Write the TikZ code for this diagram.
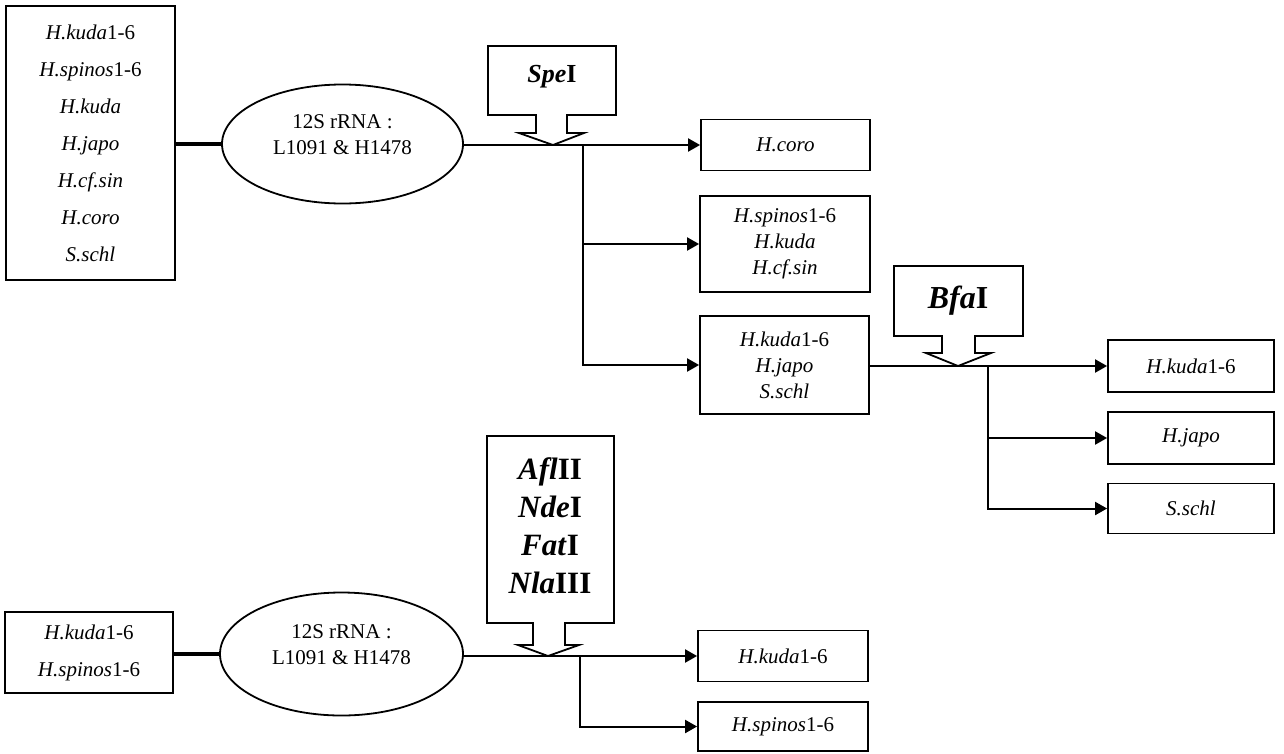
\documentclass[tikz,border=0pt]{standalone}
\usepackage{fontspec}
\setmainfont{Liberation Serif}
\usetikzlibrary{shapes.geometric,arrows.meta}
\begin{document}
\begin{tikzpicture}[x=1pt,y=-1pt,
  box/.style={draw,line width=1.8pt,inner sep=0pt,align=center,font=\fontsize{21}{26}\selectfont},
  oval/.style={draw,ellipse,line width=1.8pt,inner sep=0pt},
  lbl/.style={align=center,inner sep=0pt,font=\fontsize{21}{26}\selectfont},
  enz/.style={align=center,inner sep=0pt,font=\bfseries},
  heavy/.style={line width=3.8pt},
  arr/.style={line width=2pt,-{Triangle[length=12pt,width=13pt]}},
  callout/.style={draw,fill=white,line width=1.8pt,line join=miter}
]
\useasboundingbox (0,0) rectangle (1284,753);

% ---------- top part ----------
\node[box,minimum width=169pt,minimum height=274pt,font=\fontsize{21}{37}\selectfont] (src1) at (90.5,143)
  {\textit{H.kuda}1-6\\\textit{H.spinos}1-6\\\textit{H.kuda}\\\textit{H.japo}\\\textit{H.cf.sin}\\\textit{H.coro}\\\textit{S.schl}};
\node[oval,minimum width=241pt,minimum height=119pt] (ell1) at (342.5,144) {};
\node[lbl] (ell1t) at (342.5,135) {12S rRNA :\\L1091 \& H1478};
\draw[heavy] (src1.east |- ell1.west) -- (ell1.west);

\node[box,minimum width=169pt,minimum height=51pt] (coro) at (785.5,145) {\textit{H.coro}};
\node[box,minimum width=170pt,minimum height=96pt] (grpA) at (785,244) {\textit{H.spinos}1-6\\\textit{H.kuda}\\\textit{H.cf.sin}};
\node[box,minimum width=169pt,minimum height=98pt] (grpB) at (784.5,365) {\textit{H.kuda}1-6\\\textit{H.japo}\\\textit{S.schl}};

\coordinate (spetip) at (553,145);
\coordinate (br1) at (583,145);
\draw[arr] (ell1.east |- spetip) -- (coro.west);
\draw[arr] (br1) |- (grpA.west);
\draw[arr] (br1) |- (grpB.west);
\draw[callout] (488,46) -- (616,46) -- (616,115) -- (567,115) -- (567,133) -- (584,133) -- (spetip)
  -- (519,133) -- (536,133) -- (536,115) -- (488,115) -- cycle;
\node[enz,font=\fontsize{26}{30}\selectfont\bfseries] (spe) at (552,77) {\textit{Spe}I};

% ---------- BfaI part ----------
\node[box,minimum width=166pt,minimum height=52pt] (kuda2) at (1191,366) {\textit{H.kuda}1-6};
\node[box,minimum width=166pt,minimum height=52pt] (japo2) at (1191,438) {\textit{H.japo}};
\node[box,minimum width=166pt,minimum height=50pt] (schl2) at (1191,508.5) {\textit{S.schl}};
\coordinate (bfatip) at (958,366);
\coordinate (br2) at (988,366);
\draw[arr] (grpB.east |- bfatip) -- (kuda2.west);
\draw[arr] (br2) |- (japo2.west);
\draw[arr] (br2) |- (schl2.west);
\draw[callout] (894,266) -- (1023,266) -- (1023,336) -- (975,336) -- (975,353) -- (991,353) -- (bfatip)
  -- (926,353) -- (942,353) -- (942,336) -- (894,336) -- cycle;
\node[enz,font=\fontsize{32}{36}\selectfont\bfseries] (bfa) at (958,301) {\textit{Bfa}I};

% ---------- bottom part ----------
\node[box,minimum width=168pt,minimum height=81pt,font=\fontsize{21}{37}\selectfont] (src2) at (89,652.5)
  {\textit{H.kuda}1-6\\\textit{H.spinos}1-6};
\node[oval,minimum width=243pt,minimum height=123pt] (ell2) at (341.5,654) {};
\node[lbl] (ell2t) at (341.5,645) {12S rRNA :\\L1091 \& H1478};
\draw[heavy] (src2.east |- ell2.west) -- (ell2.west);

\node[box,minimum width=170pt,minimum height=51pt] (kuda3) at (783,656) {\textit{H.kuda}1-6};
\node[box,minimum width=170pt,minimum height=49pt] (spin3) at (783,726.5) {\textit{H.spinos}1-6};
\coordinate (bottip) at (548,656);
\coordinate (br3) at (580,656);
\draw[arr] (ell2.east |- bottip) -- (kuda3.west);
\draw[arr] (br3) |- (spin3.west);
\draw[callout] (487,436) -- (614,436) -- (614,623) -- (565,623) -- (565,645) -- (579,645) -- (bottip)
  -- (518,645) -- (533,645) -- (533,623) -- (487,623) -- cycle;
\node[enz,font=\fontsize{31}{38}\selectfont\bfseries] (enzs) at (550,526)
  {\textit{Afl}II\\\textit{Nde}I\\\textit{Fat}I\\\textit{Nla}III};
\end{tikzpicture}
\end{document}
